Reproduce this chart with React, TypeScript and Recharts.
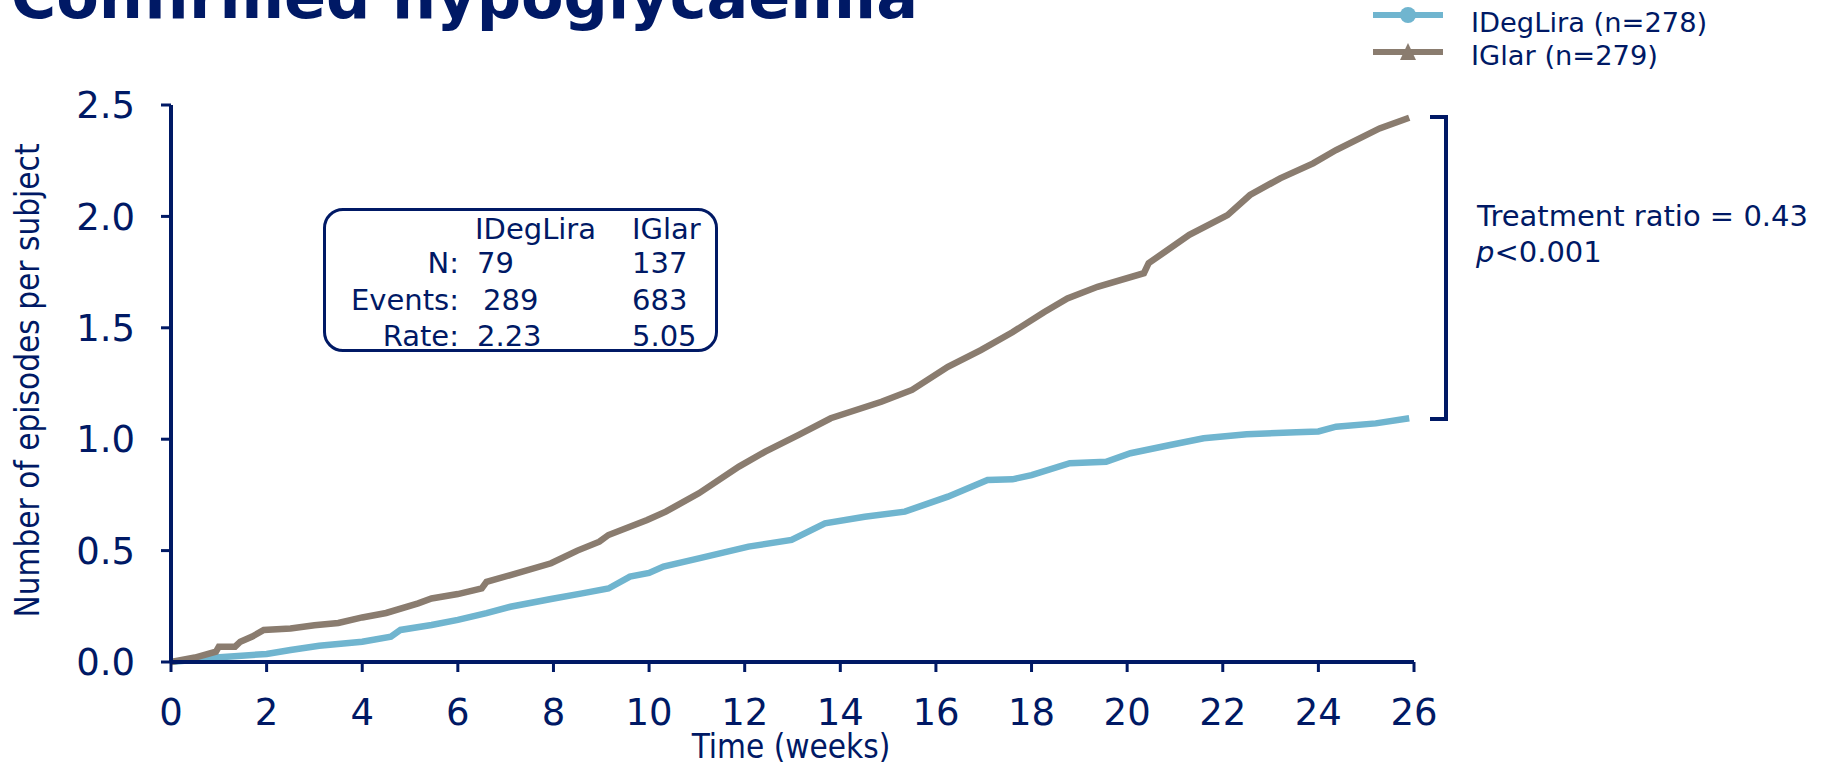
import React from 'react';
import { LineChart, Line, XAxis, YAxis, Legend } from 'recharts';

// Colours taken from the slide
const NAVY = '#001965';
const BLUE = '#70b5cf';
const BROWN = '#8a7c6f';
const FONT = "'DejaVu Sans', Verdana, sans-serif";

// Cumulative confirmed hypoglycaemia
const iglarWeeks = [
  0, 0.5, 0.94, 1.0, 1.34, 1.45, 1.7, 1.94, 2.5, 3.0, 3.5, 4.0, 4.5, 5.17, 5.45, 6.0, 6.5, 6.6,
  7.1, 7.95, 8.5, 8.96, 9.15, 9.96, 10.35, 11.04, 11.88, 12.43, 13.13, 13.8, 14.86, 15.5, 16.25,
  16.94, 17.6, 18.26, 18.75, 19.38, 20.35, 20.45, 21.3, 22.1, 22.57, 23.2, 23.89, 24.37, 25.28, 25.9,
];
const iglarValues = [
  0, 0.02, 0.046, 0.069, 0.069, 0.091, 0.114, 0.144, 0.15, 0.165, 0.175, 0.2, 0.22, 0.263, 0.285,
  0.305, 0.33, 0.36, 0.39, 0.443, 0.5, 0.54, 0.57, 0.637, 0.675, 0.757, 0.877, 0.944, 1.019, 1.094,
  1.168, 1.221, 1.325, 1.4, 1.48, 1.57, 1.632, 1.684, 1.745, 1.79, 1.917, 2.006, 2.096, 2.171, 2.238,
  2.298, 2.395, 2.443,
];

const idegliraWeeks = [
  0, 0.5, 0.94, 2.0, 2.5, 3.1, 4.0, 4.6, 4.8, 5.45, 6.0, 6.6, 7.1, 7.95, 8.6, 9.15, 9.6, 10.0,
  10.3, 11.04, 12.08, 12.98, 13.68, 14.51, 15.35, 16.25, 17.08, 17.6, 18.0, 18.8, 19.56, 20.07,
  20.9, 21.6, 22.5, 23.54, 24.0, 24.37, 25.2, 25.9,
];
const idegliraValues = [
  0, 0.01, 0.02, 0.036, 0.054, 0.073, 0.091, 0.114, 0.144, 0.166, 0.189, 0.219, 0.248, 0.283, 0.308,
  0.33, 0.383, 0.4, 0.428, 0.465, 0.518, 0.548, 0.622, 0.652, 0.675, 0.742, 0.817, 0.82, 0.839,
  0.892, 0.899, 0.937, 0.974, 1.004, 1.022, 1.031, 1.035, 1.056, 1.071, 1.094,
];

const xTicks = [0, 2, 4, 6, 8, 10, 12, 14, 16, 18, 20, 22, 24, 26];
const yTicks = [0, 0.5, 1.0, 1.5, 2.0, 2.5];

const tableColumns = ['IDegLira', 'IGlar'];
const tableRows = ['N:', 'Events:', 'Rate:'];
const tableIDegLira = ['79', '289', '2.23'];
const tableIGlar = ['137', '683', '5.05'];

const iglarData = iglarWeeks.map((w, i) => ({ week: w, value: iglarValues[i] }));
const idegliraData = idegliraWeeks.map((w, i) => ({ week: w, value: idegliraValues[i] }));

// text placed by its baseline (DejaVu Sans metrics, line-height = font size)
function Txt({ x, baseline, size, children, style }: any) {
  return (
    <div
      style={{
        position: 'absolute',
        left: x,
        top: baseline - 0.846 * size,
        fontSize: size,
        lineHeight: `${size}px`,
        fontFamily: FONT,
        color: NAVY,
        whiteSpace: 'nowrap',
        ...style,
      }}
    >
      {children}
    </div>
  );
}

function renderLegend(props: any) {
  const items = props.payload || [];
  return (
    <div style={{ position: 'relative', width: 450, height: 80 }}>
      {items.map((entry: any, i: number) => {
        const cy = i === 0 ? 15 : 52;
        return (
          <React.Fragment key={entry.value}>
            <svg
              width={72}
              height={26}
              style={{ position: 'absolute', left: 0, top: cy - 13 }}
            >
              <line x1={0} y1={13} x2={70} y2={13} stroke={entry.color} strokeWidth={6} />
              {entry.value.startsWith('IDegLira') ? (
                <circle cx={35} cy={13} r={8} fill={entry.color} />
              ) : (
                <polygon points="35,4 43,21 27,21" fill={entry.color} />
              )}
            </svg>
            <Txt x={98} baseline={i === 0 ? 32 : 65} size={27.3}>
              {entry.value}
            </Txt>
          </React.Fragment>
        );
      })}
    </div>
  );
}

export default function App() {
  return (
    <div
      style={{
        position: 'absolute',
        left: 0,
        top: 0,
        width: 1825,
        height: 766,
        overflow: 'hidden',
        background: '#fff',
        fontFamily: FONT,
      }}
    >
      {/* title, cut by the top of the slide */}
      <div
        style={{
          position: 'absolute',
          left: 0,
          width: 918,
          top: 18 - 0.846 * 62,
          fontSize: 62,
          lineHeight: '62px',
          fontWeight: 'bold',
          color: NAVY,
          textAlign: 'right',
          whiteSpace: 'nowrap',
        }}
      >
        Confirmed hypoglycaemia
      </div>

      <LineChart width={1825} height={766} margin={{ top: 105, right: 411, bottom: 0, left: 0 }}>
        <XAxis
          type="number"
          dataKey="week"
          domain={[0, 26]}
          ticks={xTicks}
          height={104}
          tickSize={10}
          tickMargin={27}
          axisLine={{ stroke: NAVY, strokeWidth: 4 }}
          tickLine={{ stroke: NAVY, strokeWidth: 3 }}
          tick={{ fill: NAVY, fontSize: 37, fontFamily: FONT }}
          interval={0}
        />
        <YAxis
          type="number"
          domain={[0, 2.5]}
          ticks={yTicks}
          width={171}
          tickSize={10}
          tickMargin={26}
          tickFormatter={(v: number) => v.toFixed(1)}
          axisLine={{ stroke: NAVY, strokeWidth: 4 }}
          tickLine={{ stroke: NAVY, strokeWidth: 3 }}
          tick={{ fill: NAVY, fontSize: 37, fontFamily: FONT }}
          interval={0}
        />
        <Legend
          layout="horizontal"
          verticalAlign="middle"
          align="center"
          content={renderLegend}
          wrapperStyle={{ position: 'absolute', left: 1373, top: 0, width: 450 }}
        />
        <Line
          data={idegliraData}
          dataKey="value"
          name="IDegLira (n=278)"
          type="linear"
          stroke={BLUE}
          strokeWidth={6.5}
          dot={false}
          isAnimationActive={false}
        />
        <Line
          data={iglarData}
          dataKey="value"
          name="IGlar (n=279)"
          type="linear"
          stroke={BROWN}
          strokeWidth={6.5}
          dot={false}
          isAnimationActive={false}
        />
      </LineChart>

      {/* axis titles */}
      <div
        style={{
          position: 'absolute',
          left: 27 - 300,
          top: 380 - 16,
          width: 600,
          height: 33,
          fontSize: 33,
          lineHeight: '33px',
          fontStretch: 'condensed',
          color: NAVY,
          textAlign: 'center',
          whiteSpace: 'nowrap',
          transform: 'rotate(-90deg)',
        }}
      >
        Number of episodes per subject
      </div>
      <div
        style={{
          position: 'absolute',
          left: 791 - 200,
          top: 758 - 0.846 * 33,
          width: 400,
          fontSize: 33,
          lineHeight: '33px',
          fontStretch: 'condensed',
          color: NAVY,
          textAlign: 'center',
          whiteSpace: 'nowrap',
        }}
      >
        Time (weeks)
      </div>

      {/* summary table */}
      <div
        style={{
          position: 'absolute',
          left: 323,
          top: 208,
          width: 395 - 6,
          height: 144 - 6,
          border: `3px solid ${NAVY}`,
          borderRadius: 20,
        }}
      />
      <Txt x={475} baseline={240} size={29}>{tableColumns[0]}</Txt>
      <Txt x={632} baseline={240} size={29}>{tableColumns[1]}</Txt>
      {tableRows.map((label, i) => (
        <React.Fragment key={label}>
          <Txt x={260} baseline={274 + i * 36.5} size={29} style={{ width: 199, textAlign: 'right' }}>
            {label}
          </Txt>
          <Txt x={i === 1 ? 483 : 477} baseline={274 + i * 36.5} size={29}>
            {tableIDegLira[i]}
          </Txt>
          <Txt x={632} baseline={274 + i * 36.5} size={29}>
            {tableIGlar[i]}
          </Txt>
        </React.Fragment>
      ))}

      {/* bracket and treatment ratio */}
      <div
        style={{
          position: 'absolute',
          left: 1430,
          top: 115,
          width: 14,
          height: 298,
          borderTop: `4px solid ${NAVY}`,
          borderBottom: `4px solid ${NAVY}`,
          borderRight: `4px solid ${NAVY}`,
        }}
      />
      <Txt x={1477} baseline={227} size={29}>Treatment ratio = 0.43</Txt>
      <Txt x={1476} baseline={263} size={29}>
        <i>p</i>&lt;0.001
      </Txt>
    </div>
  );
}
